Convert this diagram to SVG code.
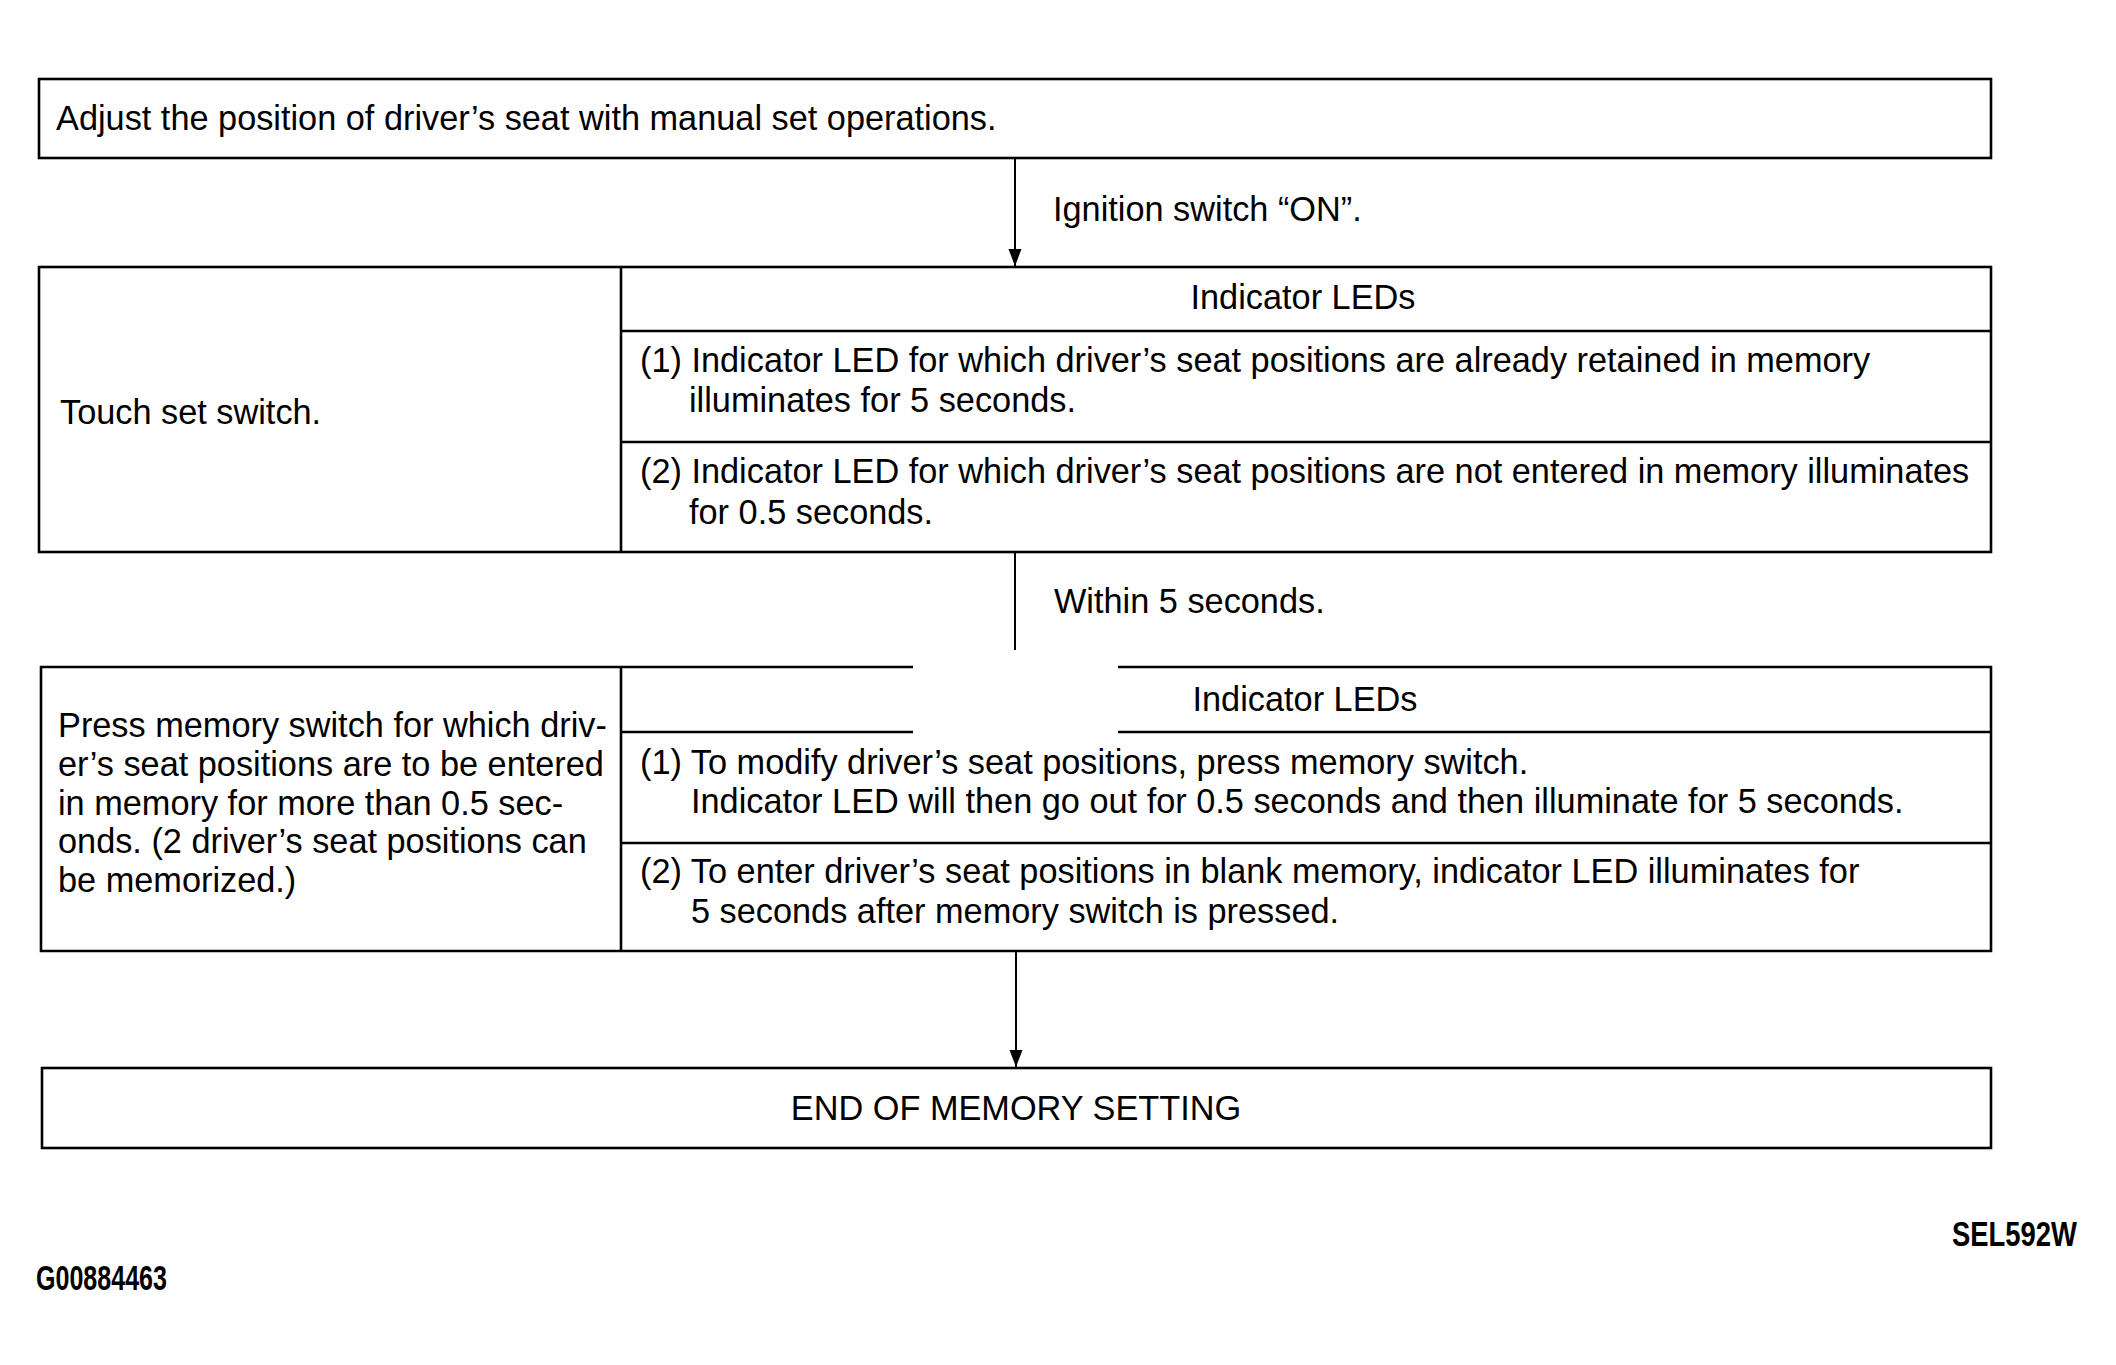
<svg xmlns="http://www.w3.org/2000/svg" width="2116" height="1365" viewBox="0 0 2116 1365">
<style>
.b{fill:#fff;stroke:#000;stroke-width:2.6}
.l{fill:none;stroke:#000;stroke-width:2.6}
.c{fill:none;stroke:#000;stroke-width:2}
text{font-family:"Liberation Sans",Arial,sans-serif;font-size:34.3px;fill:#000}
.m{text-anchor:middle}
.code{font-weight:bold}
</style>
<defs>
<marker id="arr" markerUnits="userSpaceOnUse" markerWidth="18" markerHeight="14" refX="17" refY="6.5" orient="auto">
<path d="M0,0 L17,6.5 L0,13 z" fill="#000"/>
</marker>
</defs>
<rect width="2116" height="1365" fill="#fff"/>

<g id="connectors">
<line class="c" x1="1015" y1="158" x2="1015" y2="266" marker-end="url(#arr)"/>
<line class="c" x1="1015" y1="552" x2="1015" y2="650"/>
<line class="c" x1="1016" y1="951" x2="1016" y2="1067" marker-end="url(#arr)"/>
</g>

<g id="node-adjust">
<rect class="b" x="39" y="79" width="1952" height="79"/>
<text x="56" y="130">Adjust the position of driver’s seat with manual set operations.</text>
</g>

<g id="label-ignition">
<text x="1053" y="221">Ignition switch “ON”.</text>
</g>

<g id="node-touch">
<rect class="b" x="39" y="267" width="1952" height="285"/>
<line class="l" x1="621" y1="267" x2="621" y2="552"/>
<line class="l" x1="621" y1="331" x2="1991" y2="331"/>
<line class="l" x1="621" y1="442" x2="1991" y2="442"/>
<text x="60" y="424">Touch set switch.</text>
<text class="m" x="1303" y="309">Indicator LEDs</text>
<text x="640" y="372">(1) Indicator LED for which driver’s seat positions are already retained in memory</text>
<text x="689" y="412">illuminates for 5 seconds.</text>
<text x="640" y="483">(2) Indicator LED for which driver’s seat positions are not entered in memory illuminates</text>
<text x="689" y="524">for 0.5 seconds.</text>
</g>

<g id="label-within">
<text x="1054" y="613">Within 5 seconds.</text>
</g>

<g id="node-press">
<path class="b" d="M913,667 L41,667 L41,951 L1991,951 L1991,667 L1118,667"/>
<line class="l" x1="621" y1="667" x2="621" y2="951"/>
<line class="l" x1="621" y1="732" x2="913" y2="732"/>
<line class="l" x1="1118" y1="732" x2="1991" y2="732"/>
<line class="l" x1="621" y1="843" x2="1991" y2="843"/>
<text x="58" y="737">Press memory switch for which driv-</text>
<text x="58" y="776">er’s seat positions are to be entered</text>
<text x="58" y="815">in memory for more than 0.5 sec-</text>
<text x="58" y="853">onds. (2 driver’s seat positions can</text>
<text x="58" y="892">be memorized.)</text>
<text class="m" x="1305" y="711">Indicator LEDs</text>
<text x="640" y="774">(1) To modify driver’s seat positions, press memory switch.</text>
<text x="691" y="813">Indicator LED will then go out for 0.5 seconds and then illuminate for 5 seconds.</text>
<text x="640" y="883">(2) To enter driver’s seat positions in blank memory, indicator LED illuminates for</text>
<text x="691" y="923">5 seconds after memory switch is pressed.</text>
</g>

<g id="node-end">
<rect class="b" x="42" y="1068" width="1949" height="80"/>
<text class="m" x="1016" y="1120">END OF MEMORY SETTING</text>
</g>

<g id="codes">
<text class="code" x="2077" y="1246" font-size="25" text-anchor="end" textLength="125" lengthAdjust="spacingAndGlyphs">SEL592W</text>
<text class="code" x="36" y="1290" font-size="21" textLength="131" lengthAdjust="spacingAndGlyphs">G00884463</text>
</g>
</svg>
